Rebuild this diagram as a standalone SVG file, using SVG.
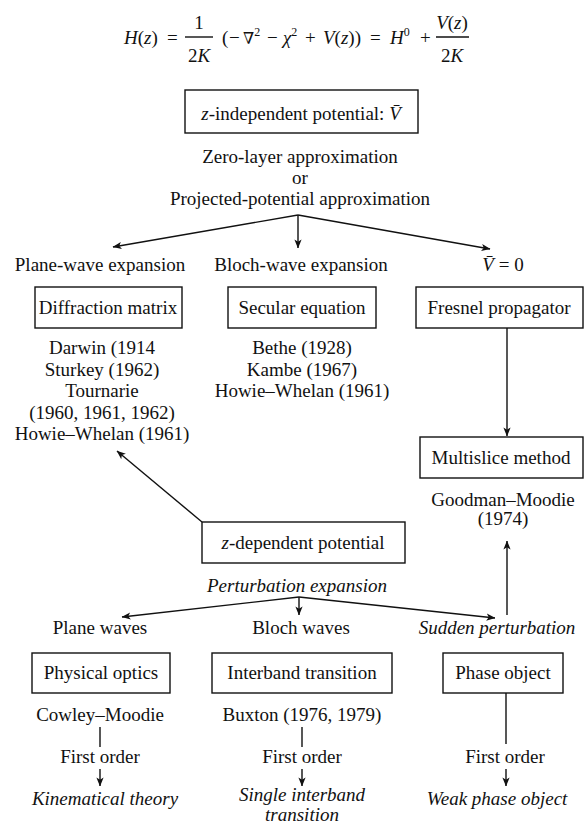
<svg xmlns="http://www.w3.org/2000/svg" width="587" height="825" viewBox="0 0 587 825">
<style>
text{font-family:"Liberation Serif","Times New Roman",serif;font-size:19px;fill:#111}
.c{text-anchor:middle}
.i{font-style:italic}
.box{fill:#fff;stroke:#111;stroke-width:1.4}
.ln{stroke:#111;stroke-width:1.4;fill:none}
.ar{stroke:#111;stroke-width:1.4;fill:none;marker-end:url(#ah)}
</style>
<defs>
<marker id="ah" viewBox="0 0 10 10" refX="9.5" refY="5" markerWidth="9" markerHeight="9" markerUnits="userSpaceOnUse" orient="auto">
<path d="M0,1 L10,5 L0,9 L2.5,5 z" fill="#111"/>
</marker>
</defs>

<g id="equation">
<text x="124" y="44"><tspan class="i">H</tspan>(<tspan class="i">z</tspan>)<tspan x="167">=</tspan></text>
<text class="c" x="199" y="29">1</text>
<line class="ln" x1="185" y1="37" x2="213" y2="37"/>
<text class="c" x="199" y="62">2<tspan class="i">K</tspan></text>
<text y="44"><tspan x="222">(</tspan><tspan x="229">−</tspan><tspan x="243" font-family="DejaVu Serif" font-size="16">∇</tspan><tspan font-size="12" dy="-8">2</tspan><tspan x="267" dy="8">−</tspan><tspan x="283" class="i">χ</tspan><tspan font-size="12" dy="-8">2</tspan><tspan x="305" dy="8">+</tspan><tspan x="323" class="i">V</tspan>(<tspan class="i">z</tspan>))<tspan x="370">=</tspan><tspan x="390" class="i">H</tspan><tspan font-size="12" dy="-8">0</tspan><tspan x="420" dy="8">+</tspan></text>
<text class="c" x="452" y="29"><tspan class="i">V</tspan>(<tspan class="i">z</tspan>)</text>
<line class="ln" x1="436" y1="37" x2="469" y2="37"/>
<text class="c" x="452" y="62">2<tspan class="i">K</tspan></text>
</g>

<g id="connectors">
<polyline class="ar" points="298,215 113,247"/>
<line class="ar" x1="298" y1="215" x2="298" y2="248"/>
<polyline class="ar" points="298,215 490,249"/>
<line class="ar" x1="507" y1="328" x2="507" y2="436"/>
<line class="ar" x1="202" y1="522" x2="117" y2="451"/>
<line class="ar" x1="507" y1="615" x2="507" y2="541"/>
<line class="ar" x1="299" y1="597" x2="122" y2="617"/>
<line class="ar" x1="299" y1="597" x2="299" y2="615"/>
<line class="ar" x1="299" y1="597" x2="495" y2="618"/>
<line class="ln" x1="100" y1="727" x2="100" y2="747"/>
<line class="ar" x1="100" y1="769" x2="100" y2="786"/>
<line class="ln" x1="302" y1="727" x2="302" y2="747"/>
<line class="ar" x1="302" y1="769" x2="302" y2="786"/>
<line class="ln" x1="506" y1="693" x2="506" y2="744"/>
<line class="ar" x1="506" y1="769" x2="506" y2="786"/>
</g>

<g id="z-independent">
<rect class="box" x="185" y="90" width="233" height="43"/>
<text class="c" x="301" y="120"><tspan class="i">z</tspan>-independent potential: <tspan class="i">V̄</tspan></text>
</g>
<g id="approximation">
<text class="c" x="300" y="163">Zero-layer approximation</text>
<text class="c" x="300" y="184">or</text>
<text class="c" x="300" y="205">Projected-potential approximation</text>
</g>

<g id="plane-wave-expansion"><text class="c" x="100" y="271">Plane-wave expansion</text></g>
<g id="bloch-wave-expansion"><text class="c" x="301" y="271">Bloch-wave expansion</text></g>
<g id="v-zero"><text class="c" x="503" y="271"><tspan class="i">V̄</tspan> = 0</text></g>

<g id="diffraction-matrix">
<rect class="box" x="35" y="287" width="147" height="41"/>
<text class="c" x="108" y="314">Diffraction matrix</text>
</g>
<g id="secular-equation">
<rect class="box" x="228" y="287" width="148" height="41"/>
<text class="c" x="302" y="314">Secular equation</text>
</g>
<g id="fresnel-propagator">
<rect class="box" x="416" y="287" width="167" height="41"/>
<text class="c" x="499" y="314">Fresnel propagator</text>
</g>

<g id="diffraction-refs">
<text class="c" x="102" y="354">Darwin (1914</text>
<text class="c" x="102" y="376">Sturkey (1962)</text>
<text class="c" x="102" y="397">Tournarie</text>
<text class="c" x="102" y="419">(1960, 1961, 1962)</text>
<text class="c" x="102" y="440">Howie–Whelan (1961)</text>
</g>
<g id="secular-refs">
<text class="c" x="302" y="354">Bethe (1928)</text>
<text class="c" x="302" y="376">Kambe (1967)</text>
<text class="c" x="302" y="397">Howie–Whelan (1961)</text>
</g>

<g id="multislice-method">
<rect class="box" x="420" y="437" width="163" height="41"/>
<text class="c" x="501" y="464">Multislice method</text>
</g>
<g id="multislice-refs">
<text class="c" x="503" y="506">Goodman–Moodie<tspan x="503" dy="19">(1974)</tspan></text>
</g>

<g id="z-dependent">
<rect class="box" x="202" y="522" width="203" height="41"/>
<text class="c" x="303" y="549"><tspan class="i">z</tspan>-dependent potential</text>
</g>
<g id="perturbation-expansion"><text class="c i" x="297" y="592">Perturbation expansion</text></g>

<g id="plane-waves"><text class="c" x="100" y="634">Plane waves</text></g>
<g id="bloch-waves"><text class="c" x="301" y="634">Bloch waves</text></g>
<g id="sudden-perturbation"><text class="c i" x="497" y="634">Sudden perturbation</text></g>

<g id="physical-optics">
<rect class="box" x="32" y="653" width="138" height="40"/>
<text class="c" x="101" y="679">Physical optics</text>
</g>
<g id="interband-transition">
<rect class="box" x="212" y="653" width="180" height="40"/>
<text class="c" x="302" y="679">Interband transition</text>
</g>
<g id="phase-object">
<rect class="box" x="443" y="653" width="120" height="40"/>
<text class="c" x="503" y="679">Phase object</text>
</g>

<g id="physical-chain">
<text class="c" x="100" y="721">Cowley–Moodie</text>
<text class="c" x="100" y="763">First order</text>
<text class="c i" x="105" y="805">Kinematical theory</text>
</g>
<g id="interband-chain">
<text class="c" x="302" y="721">Buxton (1976, 1979)</text>
<text class="c" x="302" y="763">First order</text>
<text class="c i" x="302" y="801">Single interband<tspan x="302" dy="20">transition</tspan></text>
</g>
<g id="phase-chain">
<text class="c" x="505" y="763">First order</text>
<text class="c i" x="497" y="805">Weak phase object</text>
</g>
</svg>
